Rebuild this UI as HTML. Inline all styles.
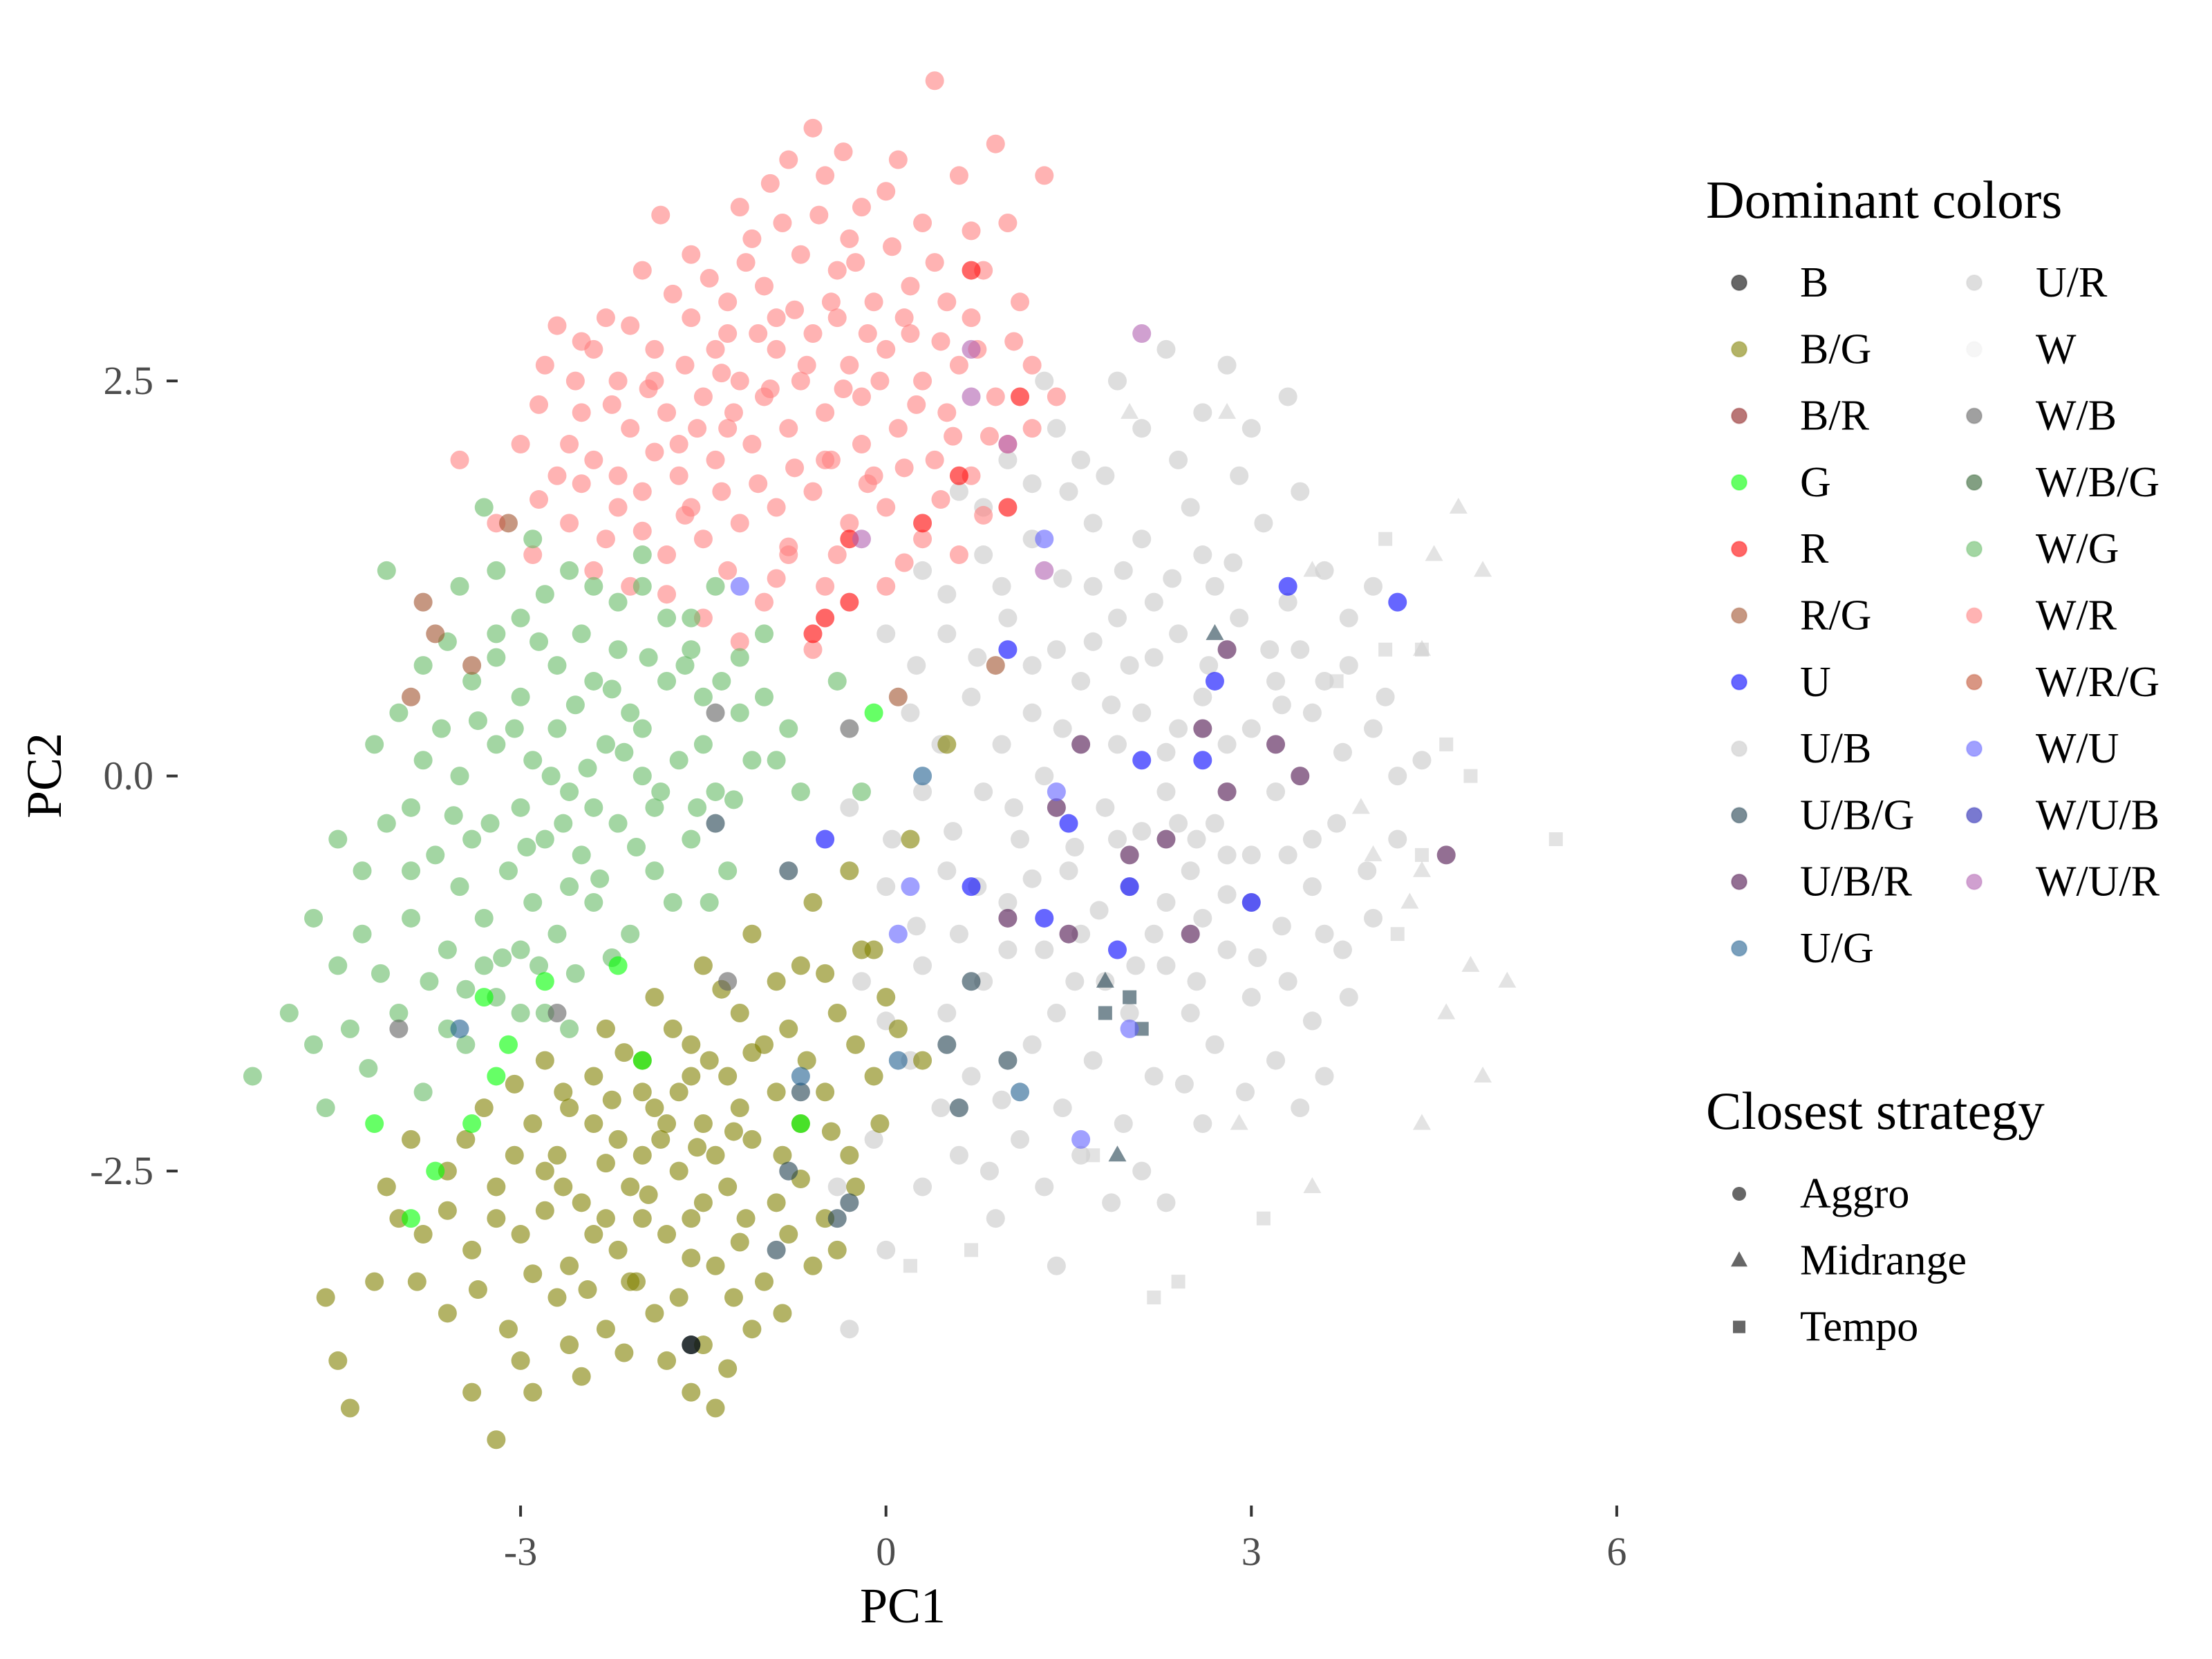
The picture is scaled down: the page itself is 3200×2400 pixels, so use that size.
<!DOCTYPE html>
<html><head><meta charset="utf-8"><style>
html,body{margin:0;padding:0;background:#fff}
svg{display:block;font-family:"Liberation Serif",serif}
</style></head><body>
<svg id="chart" width="3200" height="2400" viewBox="0 0 3200 2400">
<g id="points"></g>
<g id="axes"></g>
<g id="legend"></g>
</svg>
<script>
// ---- data (PC1, PC2) per group ----
const groupWR = [[-2.3,2.9],[-2.0,3.2],[-1.6,3.3],[-1.2,3.6],[-0.8,3.9],[-0.5,3.8],[-0.2,3.6],[0.3,3.5],[0.6,3.8],[0.9,4.0],[1.3,3.8],[0.4,4.4],[-0.6,4.1],
[-2.8,2.6],[-2.5,2.3],[-2.2,2.5],[-1.9,2.7],[-1.6,2.9],[-1.3,3.0],[-1.0,3.1],[-0.7,3.3],[-0.4,3.2],[-0.1,3.0],[0.2,3.1],[0.5,3.0],[0.8,3.2],[1.1,3.0],
[-3.0,2.1],[-2.7,1.9],[-2.4,2.0],[-2.1,2.2],[-1.8,2.3],[-1.5,2.4],[-1.2,2.5],[-0.9,2.7],[-0.6,2.8],[-0.3,2.6],[0.0,2.7],[0.3,2.5],[0.6,2.6],[0.9,2.4],[1.2,2.6],
[-2.6,1.6],[-2.3,1.5],[-2.0,1.8],[-1.7,1.9],[-1.4,2.0],[-1.1,2.1],[-0.8,2.2],[-0.5,2.3],[-0.2,2.1],[0.1,2.2],[0.4,2.0],[0.7,1.9],[1.0,2.1],
[-2.1,1.2],[-1.8,1.4],[-1.5,1.5],[-1.2,1.6],[-0.9,1.7],[-0.6,1.8],[-0.3,1.6],[0.0,1.7],[0.3,1.5],[0.6,1.4],
[-1.5,1.0],[-1.0,1.1],[-0.5,1.2],[0.0,1.2],[-0.6,0.8],[-0.9,2.9],[-1.4,2.7],[-0.2,2.4],[-1.7,2.1],[-2.4,2.7],[0.7,2.9],[-1.1,3.4],[-0.3,3.4],[0.1,3.9],[-3.5,2.0],[-3.2,1.6],[-2.9,1.4],
[-1.3,2.2],[-0.7,2.5],[-1.0,2.4],[-0.4,2.9],[-1.9,2.5],[-2.2,1.9],[-0.1,1.9],[0.5,2.3],[-1.6,1.7],[-0.8,1.4],[-2.6,2.1],[-1.3,2.8],[-0.5,2.0],[0.2,2.8],
[-2.5,2.75],[-2.1,2.85],[-1.75,3.05],[-1.45,3.15],[-1.15,3.25],[-0.85,3.5],[-0.55,3.55],[-0.25,3.25],[0.05,3.35],[0.4,3.25],[0.7,3.45],[1.0,3.5],
[-2.85,2.35],[-2.55,2.5],[-2.25,2.35],[-1.95,2.45],[-1.65,2.6],[-1.35,2.55],[-1.05,2.8],[-0.75,2.95],[-0.45,3.0],[-0.15,2.8],[0.15,2.9],[0.45,2.75],[0.75,2.7],[1.05,2.75],[1.4,2.4],
[-2.85,1.75],[-2.5,1.85],[-2.2,1.7],[-1.9,2.05],[-1.55,2.2],[-1.25,2.3],[-0.95,2.45],[-0.65,2.6],[-0.35,2.45],[-0.05,2.5],[0.25,2.35],[0.55,2.15],[0.85,2.15],[1.2,2.2],
[-2.4,1.3],[-2.0,1.55],[-1.65,1.65],[-1.35,1.8],[-1.05,1.85],[-0.75,1.95],[-0.45,2.0],[-0.15,1.85],[0.15,1.95],[0.45,1.75],[0.8,1.65],
[-1.8,1.15],[-1.3,1.3],[-0.8,1.45],[-0.4,1.4],[0.15,1.35],[-1.2,0.85],[-0.9,1.25],[-2.7,2.85],[-1.85,3.55],[-0.95,3.75],[0.0,3.7],[-0.35,3.95]];
const groupWG = [[-3.5,1.2],[-3.0,1.0],[-2.6,1.3],[-2.2,1.1],[-1.8,1.0],[-1.4,1.2],[-1.0,0.9],
[-3.8,0.7],[-3.4,0.6],[-3.0,0.5],[-2.7,0.7],[-2.4,0.6],[-2.1,0.4],[-1.8,0.6],[-1.5,0.5],[-1.2,0.4],[-0.8,0.3],
[-4.2,0.2],[-3.8,0.1],[-3.5,0.0],[-3.2,0.2],[-2.9,0.1],[-2.6,-0.1],[-2.3,0.2],[-2.0,0.0],[-1.7,0.1],[-1.4,-0.1],[-1.1,0.1],[-0.7,-0.1],
[-4.5,-0.4],[-4.1,-0.3],[-3.7,-0.5],[-3.4,-0.4],[-3.1,-0.6],[-2.8,-0.4],[-2.5,-0.5],[-2.2,-0.3],[-1.9,-0.6],[-1.6,-0.4],[-1.3,-0.6],
[-4.7,-0.9],[-4.3,-1.0],[-3.9,-0.9],[-3.6,-1.1],[-3.3,-0.9],[-3.0,-1.1],[-2.7,-1.0],[-2.4,-0.8],[-2.1,-1.0],
[-4.9,-1.5],[-4.4,-1.6],[-4.0,-1.5],[-3.6,-1.6],[-3.2,-1.4],[-2.8,-1.5],
[-5.2,-1.9],[-4.6,-2.1],[-3.8,-2.0],[-4.1,1.3],[-2.9,1.5],[-3.3,1.7],[-2.0,1.4],[-0.4,0.6],[-0.2,-0.1],[-2.7,0.3],[-3.0,-0.2],[-2.4,-0.2],[-2.0,0.3],[-1.6,0.8],
[-2.5,0.9],[-3.2,0.9],[-1.9,-0.2],[-2.6,-0.7],[-3.5,-0.7],[-2.2,0.8],[-1.5,0.2],[-3.9,-0.2],[-2.9,-0.8],[-3.3,-1.2],
[-3.2,1.3],[-2.8,1.15],[-2.4,1.2],[-2.0,1.2],[-1.6,1.0],[-1.2,0.75],
[-3.6,0.85],[-3.2,0.75],[-2.85,0.85],[-2.55,0.45],[-2.25,0.55],[-1.95,0.75],[-1.65,0.7],[-1.35,0.6],[-1.0,0.5],
[-4.0,0.4],[-3.65,0.3],[-3.35,0.35],[-3.05,0.3],[-2.75,0.0],[-2.45,0.05],[-2.15,0.15],[-1.85,-0.1],[-1.55,-0.2],[-1.25,-0.15],[-0.9,0.1],
[-4.3,-0.6],[-3.9,-0.6],[-3.55,-0.25],[-3.25,-0.3],[-2.95,-0.45],[-2.65,-0.3],[-2.35,-0.65],[-2.05,-0.45],[-1.75,-0.8],[-1.45,-0.8],
[-4.5,-1.2],[-4.15,-1.25],[-3.75,-1.3],[-3.45,-1.35],[-3.15,-1.15],[-2.85,-1.2],[-2.55,-1.25],[-2.25,-1.15],
[-4.7,-1.7],[-4.25,-1.85],[-3.45,-1.7],[-3.0,-1.5],[-2.6,-1.6]];
const groupBG = [[-0.3,-0.6],[-0.6,-0.8],[0.5,0.2],[0.2,-0.4],[-0.2,-1.1],[-0.7,-1.2],[-1.1,-1.0],[-1.5,-1.2],
[-1.2,-1.5],[-0.8,-1.6],[-0.4,-1.5],[0.0,-1.4],[-1.9,-1.4],[-2.3,-1.6],[-1.6,-1.7],
[-2.8,-1.8],[-2.4,-1.9],[-2.0,-1.8],[-1.7,-2.0],[-1.3,-1.9],[-0.9,-2.0],[-0.5,-2.0],[-0.1,-1.9],[0.3,-1.8],
[-3.3,-2.1],[-2.9,-2.2],[-2.6,-2.1],[-2.2,-2.3],[-1.9,-2.1],[-1.5,-2.2],[-1.1,-2.3],[-0.7,-2.2],[-0.3,-2.4],
[-3.6,-2.5],[-3.2,-2.6],[-2.8,-2.5],[-2.5,-2.7],[-2.1,-2.6],[-1.7,-2.5],[-1.3,-2.6],[-0.9,-2.7],[-0.5,-2.8],
[-3.8,-2.9],[-3.4,-3.0],[-3.0,-2.9],[-2.6,-3.1],[-2.2,-3.0],[-1.8,-2.9],[-1.4,-3.1],[-1.0,-3.2],[-0.6,-3.1],
[-3.6,-3.4],[-3.1,-3.5],[-2.7,-3.3],[-2.3,-3.5],[-1.9,-3.4],[-1.5,-3.6],[-1.1,-3.5],
[-4.6,-3.3],[-4.5,-3.7],[-4.4,-4.0],[-3.4,-3.9],[-2.9,-3.9],[-2.5,-3.8],[-1.6,-3.9],[-1.4,-4.0],[-3.2,-4.2],[-4.0,-2.8],[-3.9,-2.3],[-2.0,-2.4],[-1.6,-2.8],[-2.4,-2.2],[-1.2,-2.1],
[-1.8,-2.2],[-2.3,-2.8],[-1.4,-2.4],[-2.7,-2.4],[-1.0,-1.7],[-2.0,-2.0],[-1.6,-1.9],[-2.1,-3.2],
[-0.9,-1.3],[-0.5,-1.25],[-0.1,-1.1],[-1.35,-1.35],[-1.75,-1.6],[-2.15,-1.75],[-1.45,-1.8],[-1.1,-1.75],[-0.65,-1.8],[-0.25,-1.7],[0.1,-1.6],
[-3.05,-1.95],[-2.65,-2.0],[-2.25,-2.05],[-1.85,-2.3],[-1.55,-2.35],[-1.25,-2.25],[-0.85,-2.4],[-0.45,-2.25],[-0.05,-2.2],
[-3.45,-2.3],[-3.05,-2.4],[-2.65,-2.6],[-2.3,-2.45],[-1.95,-2.65],[-1.5,-2.7],[-1.15,-2.8],[-0.7,-2.55],[-0.25,-2.6],
[-3.6,-2.75],[-3.2,-2.8],[-2.8,-2.75],[-2.4,-2.9],[-2.0,-2.8],[-1.6,-3.05],[-1.2,-2.95],[-0.8,-2.9],[-0.4,-3.0],
[-3.85,-3.2],[-3.35,-3.25],[-2.9,-3.15],[-2.45,-3.25],[-2.05,-3.2],[-1.7,-3.3],[-1.25,-3.3],[-0.85,-3.4],
[-3.0,-3.7],[-2.6,-3.6],[-2.15,-3.65],[-1.8,-3.7],[-1.3,-3.75],[-4.2,-3.2],[-4.1,-2.6]];
const groupUR = [[0.6,1.8],[1.0,2.0],[1.4,2.2],[1.9,2.5],[2.3,2.7],[2.8,2.6],[3.3,2.4],[1.8,1.9],[2.4,2.0],[2.9,1.9],
[0.3,1.3],[0.8,1.4],[1.2,1.5],[1.7,1.6],[2.1,1.5],[2.6,1.4],[3.1,1.6],[3.6,1.3],[4.0,1.2],
[0.0,0.9],[0.5,0.9],[1.0,1.0],[1.4,0.8],[1.9,1.0],[2.4,0.9],[2.9,1.0],[3.4,0.8],[3.8,0.7],
[0.2,0.4],[0.7,0.5],[1.2,0.4],[1.6,0.6],[2.1,0.4],[2.6,0.5],[3.0,0.3],[3.5,0.4],[4.0,0.3],[4.4,0.1],
[-0.3,-0.2],[0.3,-0.1],[0.8,-0.1],[1.3,0.0],[1.8,-0.2],[2.3,-0.1],[2.7,-0.3],[3.2,-0.1],[3.7,-0.3],[4.2,-0.4],
[0.0,-0.7],[0.5,-0.6],[1.0,-0.8],[1.5,-0.6],[2.0,-0.7],[2.5,-0.6],[3.0,-0.8],[3.5,-0.7],[4.0,-0.9],
[-0.2,-1.3],[0.3,-1.2],[0.8,-1.3],[1.3,-1.1],[1.8,-1.3],[2.3,-1.2],[2.8,-1.1],[3.3,-1.3],[3.8,-1.4],
[0.2,-1.8],[0.7,-1.9],[1.2,-1.7],[1.7,-1.8],[2.2,-1.9],[2.7,-1.7],[3.2,-1.8],[3.6,-1.9],
[0.6,-2.4],[1.1,-2.3],[1.6,-2.4],[2.1,-2.5],[2.6,-2.2],[-0.4,-2.6],[0.0,-3.0],[-0.3,-3.5],[1.4,-3.1],[0.9,-2.8],[2.3,-2.7],[1.9,-0.4],[2.4,-0.3],[2.2,-1.0],[1.6,-1.0],[2.6,-0.9],[1.9,0.2],
[1.7,1.2],[2.2,1.1],[2.7,1.2],[1.5,1.8],[2.0,0.7],[3.2,0.6],[2.8,-0.5],[3.3,-0.5],[2.0,-1.5],[2.5,-1.5],[3.0,-1.4],[1.4,-1.5],[1.1,-0.4],[0.6,-1.0],[2.4,0.3],[3.6,-1.0],
[0.8,1.7],[1.2,1.85],[1.6,2.0],[2.1,2.2],[2.6,2.3],[3.0,2.2],[1.3,2.5],[2.5,1.7],[3.4,1.8],
[0.5,1.15],[0.95,1.2],[1.45,1.25],[1.95,1.3],[2.35,1.25],[2.85,1.35],[3.3,1.1],[3.8,1.0],
[0.25,0.7],[0.75,0.75],[1.2,0.7],[1.7,0.85],[2.2,0.75],[2.65,0.7],[3.15,0.8],[3.6,0.6],[4.1,0.5],
[0.45,0.2],[0.95,0.2],[1.45,0.3],[1.85,0.45],[2.3,0.15],[2.8,0.2],[3.25,0.45],[3.75,0.15],[4.2,0.0],
[0.05,-0.4],[0.55,-0.35],[1.05,-0.2],[1.55,-0.45],[2.1,-0.35],[2.55,-0.4],[3.0,-0.5],[3.5,-0.4],[3.95,-0.6],
[0.25,-0.95],[0.75,-0.7],[1.2,-0.65],[1.75,-0.85],[2.3,-0.8],[2.8,-0.75],[3.25,-0.95],[3.75,-1.1],
[0.0,-1.55],[0.5,-1.5],[1.0,-1.1],[1.55,-1.3],[2.05,-1.2],[2.55,-1.3],[3.05,-1.15],[3.5,-1.55],
[0.45,-2.1],[0.95,-2.05],[1.45,-2.1],[1.95,-2.2],[2.45,-1.95],[2.95,-2.0],[3.4,-2.1],[0.85,-2.5],[1.3,-2.6],[1.85,-2.7],[-0.1,-2.3],[0.3,-2.6]];
const groupW_tri = [[4.7,1.7],[4.5,1.4],[4.9,1.3],[3.5,1.3],[4.4,0.8],[3.9,-0.2],[4.0,-0.5],[4.4,-0.6],[4.8,-1.2],[5.1,-1.3],[4.6,-1.5],[4.9,-1.9],[4.4,-2.2],[3.5,-2.6],[2.9,-2.2],[2.8,2.3],[2.0,2.3],[4.3,-0.8]];
const groupW_sq = [[4.1,0.8],[4.4,0.8],[4.6,0.2],[4.4,-0.5],[5.5,-0.4],[4.8,0.0],[3.7,0.6],[3.1,-2.8],[2.2,-3.3],[2.4,-3.2],[0.7,-3.0],[0.2,-3.1],[1.7,-2.4],[4.1,1.5],[4.2,-1.0]];
const groupR = [[0.7,3.2],[1.1,2.4],[1.0,1.7],[0.6,1.9],[-0.3,1.5],[-0.5,1.0],[-0.6,0.9],[0.3,1.6],[-0.3,1.1]];
const groupG = [[-3.3,-1.4],[-3.2,-1.9],[-2.8,-1.3],[-3.7,-2.5],[-3.9,-2.8],[-4.2,-2.2],[-3.4,-2.2],[-2.2,-1.2],[-2.0,-1.8],[-0.7,-2.2],[-0.1,0.4],[-3.1,-1.7]];
const groupU = [[4.2,1.1],[3.3,1.2],[2.7,0.6],[2.6,0.1],[2.1,0.1],[1.5,-0.3],[2.0,-0.7],[1.3,-0.9],[1.9,-1.1],[3.0,-0.8],[-0.5,-0.4],[0.7,-0.7],[1.0,0.8]];
const groupUBR = [[2.6,0.3],[2.3,-0.4],[2.0,-0.5],[2.5,-1.0],[1.4,-0.2],[1.0,-0.9],[2.8,-0.1],[3.4,0.0],[1.6,0.2],[2.8,0.8],[3.2,0.2],[4.6,-0.5],[1.5,-1.0]];
const groupUBG = [[-1.6,-3.6],[-0.8,-2.5],[-0.9,-3.0],[-0.4,-2.8],[-0.3,-2.7],[0.6,-2.1],[1.0,-1.8],[0.5,-1.7],[-0.7,-2.0],[0.7,-1.3],[-0.8,-0.6],[-1.4,-0.3]];
const groupUBG_tri = [[1.8,-1.3],[1.9,-2.4],[2.7,0.9]];
const groupUBG_sq = [[1.8,-1.5],[2.1,-1.6],[2.0,-1.4]];
const groupUG = [[0.3,0.0],[-0.7,-1.9],[0.1,-1.8],[1.1,-2.0],[-3.5,-1.6]];
const groupWUR = [[2.1,2.8],[1.0,2.1],[0.7,2.7],[-0.2,1.5],[0.7,2.4],[1.3,1.3]];
const groupWU = [[0.1,-1.0],[1.3,1.5],[-1.2,1.2],[0.2,-0.7],[1.6,-2.3],[1.4,-0.1],[2.0,-1.6]];
const groupRG = [[-3.8,1.1],[-3.7,0.9],[-3.4,0.7],[-3.9,0.5],[0.1,0.5],[0.9,0.7],[-3.1,1.6]];
const groupWB = [[-0.3,0.3],[-1.3,-1.3],[-2.7,-1.5],[-4.0,-1.6],[-1.4,0.4]];
const groupB = [[-1.6,-3.6]];

const xTicks = [-3, 0, 3, 6];
const yTicks = [-2.5, 0.0, 2.5];
const yTickLabels = ["-2.5", "0.0", "2.5"];
const colorLabels = ["B","B/G","B/R","G","R","R/G","U","U/B","U/B/G","U/B/R","U/G","U/R","W","W/B","W/B/G","W/G","W/R","W/R/G","W/U","W/U/B","W/U/R"];
const colorFills = ["#000000","#808000","#8b1a1a","#00ff00","#ff0000","#a0522d","#0000ff","#c8c8c8","#1f3f4f","#4b0f4b","#1f5f8f","#c8c8c8","#f0f0f0","#606060","#2f5f2f","#66bb66","#ff8080","#c05030","#6060ff","#2020b0","#b060b0"];
const strategyLabels = ["Aggro","Midrange","Tempo"];

// ---- scales ----
const X0 = 1281.7, XU = 176.2, Y0 = 1122.6, YU = 228.6;
const sx = v => X0 + v * XU;
const sy = v => Y0 - v * YU;
const NS = "http://www.w3.org/2000/svg";
const R = 13.5;
function mk(tag, attrs, parent){ const e=document.createElementNS(NS,tag); for(const k in attrs) e.setAttribute(k,attrs[k]); parent.appendChild(e); return e; }

const pts = document.getElementById('points');
function drawCircles(arr, fill, name){
  arr.forEach(p => {
    const c = mk('circle',{cx:sx(p[0]),cy:sy(p[1]),r:R,fill:fill,'fill-opacity':0.6},pts);
    
    
  });
}
function drawTris(arr, fill, name){
  arr.forEach(p => {
    const x=sx(p[0]), y=sy(p[1]);
    const t = mk('polygon',{points:`${x},${y-14} ${x-13},${y+9} ${x+13},${y+9}`,fill:fill,'fill-opacity':0.6},pts);
    
    
  });
}
function drawSqs(arr, fill, name){
  arr.forEach(p => {
    const s = mk('rect',{x:sx(p[0])-10,y:sy(p[1])-10,width:20,height:20,fill:fill,'fill-opacity':0.6},pts);
    
    
  });
}
drawCircles(groupUR,"#c8c8c8","point-u-r");
drawTris(groupW_tri,"#d0d0d0","point-w-midrange");
drawSqs(groupW_sq,"#d0d0d0","point-w-tempo");
drawCircles(groupWR,"#ff8080","point-w-r");
drawCircles(groupWG,"#66bb66","point-w-g");
drawCircles(groupBG,"#808000","point-b-g");
drawCircles(groupR,"#ff0000","point-r");
drawCircles(groupG,"#00ff00","point-g");
drawCircles(groupU,"#0000ff","point-u");
drawCircles(groupUBR,"#4b0f4b","point-u-b-r");
drawCircles(groupUBG,"#1f3f4f","point-u-b-g");
drawTris(groupUBG_tri,"#1f3f4f","point-u-b-g-midrange");
drawSqs(groupUBG_sq,"#1f3f4f","point-u-b-g-tempo");
drawCircles(groupUG,"#1f5f8f","point-u-g");
drawCircles(groupWUR,"#b060b0","point-w-u-r");
drawCircles(groupWU,"#6060ff","point-w-u");
drawCircles(groupRG,"#a0522d","point-r-g");
drawCircles(groupWB,"#606060","point-w-b");
drawCircles(groupB,"#000000","point-b");

// ---- axes ----
const ax = document.getElementById('axes');
xTicks.forEach(v => {
  const l = mk('line',{x1:sx(v),x2:sx(v),y1:2178,y2:2194,stroke:'#333','stroke-width':4},ax);
  
  
  const t = mk('text',{x:sx(v),y:2264,'text-anchor':'middle','font-size':58,fill:'#4d4d4d'},ax);
  t.textContent = String(v);
  
  
});
yTicks.forEach((v,i) => {
  const l = mk('line',{x1:241,x2:257,y1:sy(v),y2:sy(v),stroke:'#333','stroke-width':4},ax);
  
  
  const t = mk('text',{x:222,y:sy(v)+19,'text-anchor':'end','font-size':58,fill:'#4d4d4d'},ax);
  t.textContent = yTickLabels[i];
  
  
});
const xt = mk('text',{x:1306,y:2347,'text-anchor':'middle','font-size':72,fill:'#000'},ax);
xt.textContent='PC1';


const yt = mk('text',{x:0,y:0,'text-anchor':'middle','font-size':72,fill:'#000',transform:'translate(88,1122) rotate(-90)'},ax);
yt.textContent='PC2';



// ---- legend ----
const lg = document.getElementById('legend');
const t1 = mk('text',{x:2468,y:315,'font-size':77,fill:'#000'},lg);
t1.textContent='Dominant colors';


colorLabels.forEach((lab,i) => {
  const col = i < 11 ? 0 : 1, row = i < 11 ? i : i - 11;
  const bx = col ? 2856 : 2516, tx = col ? 2945 : 2604, by = 429 + row * 96.3;
  const c = mk('circle',{cx:bx,cy:by-20,r:11,fill:colorFills[i],'fill-opacity':0.6,stroke:colorFills[i],'stroke-opacity':0.3,'stroke-width':2},lg);
  
  
  const t = mk('text',{x:tx,y:by,'font-size':62,fill:'#000'},lg);
  t.textContent = lab;
  
  
});
const t2 = mk('text',{x:2468,y:1633,'font-size':77,fill:'#000'},lg);
t2.textContent='Closest strategy';


strategyLabels.forEach((lab,i) => {
  const by = 1747 + i * 96.3, bx = 2516, cy = by - 20;
  let k;
  if(i===0) k = mk('circle',{cx:bx,cy:cy,r:10,fill:'#333','fill-opacity':0.75},lg);
  else if(i===1) k = mk('polygon',{points:`${bx},${cy-13} ${bx-12},${cy+9} ${bx+12},${cy+9}`,fill:'#333','fill-opacity':0.75},lg);
  else k = mk('rect',{x:bx-9,y:cy-9,width:18,height:18,fill:'#333','fill-opacity':0.75},lg);
  
  
  const t = mk('text',{x:2604,y:by,'font-size':62,fill:'#000'},lg);
  t.textContent = lab;
  
  
});
</script>
</body></html>
